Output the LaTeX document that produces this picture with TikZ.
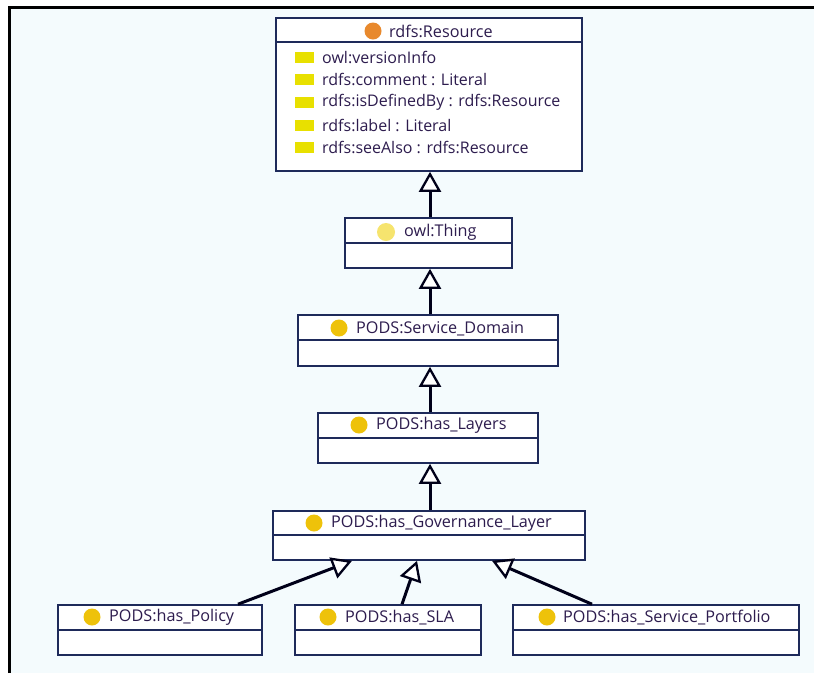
\documentclass[tikz,border=0pt]{standalone}
\usepackage{fontspec}
\setmainfont{Open Sans}
\usetikzlibrary{arrows.meta}
\definecolor{bgpaper}{RGB}{244,251,253}
\definecolor{boxline}{RGB}{30,42,90}
\definecolor{labelink}{RGB}{45,28,78}
\definecolor{resdot}{RGB}{232,137,45}
\definecolor{thingdot}{RGB}{246,228,110}
\definecolor{classdot}{RGB}{238,194,10}
\definecolor{attrmark}{RGB}{232,224,0}
\tikzset{
  classbox/.style={draw=boxline, line width=1.6pt, fill=white, rectangle, inner sep=0pt},
  classname/.style={text=labelink, font=\fontsize{16.2}{19}\selectfont, inner sep=0pt, anchor=west},
  attrname/.style={text=labelink, font=\fontsize{16}{19}\selectfont, inner sep=0pt, anchor=west},
  divider/.style={draw=boxline, line width=1.6pt},
  isa/.style={draw=black!90!blue, line width=3pt,
    -{Triangle[length=20pt, width=22pt, fill=white, line width=2.3pt]}},
}
\begin{document}
\begin{tikzpicture}[x=1pt, y=-1pt]
  % page
  \fill[bgpaper] (0,0) rectangle (814,673);
  \useasboundingbox (0,0) rectangle (814,673);
  \fill[white] (0,0) rectangle (814,5.5);
  \fill[white] (0,0) rectangle (7.5,673);
  \draw[black, line width=3pt] (9,673) -- (9,7) -- (814,7);

  % rdfs:Resource
  \node[classbox, minimum width=306pt, minimum height=153pt] (res) at (429,94.5) {};
  \draw[divider] ([yshift=-25pt]res.north west) -- ([yshift=-25pt]res.north east);
  \fill[resdot] (373,31) circle (8.5pt);
  \node[classname] (resname) at (389,31.5) {rdfs:Resource};
  \foreach \yy/\txt in {57/owl:versionInfo, 79/rdfs:comment : Literal,
      102/rdfs:isDefinedBy : rdfs:Resource, 125/rdfs:label : Literal,
      147/rdfs:seeAlso : rdfs:Resource} {
    \fill[attrmark] (295,\yy-5.5) rectangle (314,\yy+5.5);
    \node[attrname] at (322,\yy+0.5) {\txt};
  }

  % owl:Thing
  \node[classbox, minimum width=167pt, minimum height=50pt] (thing) at (428.5,243) {};
  \draw[divider] ([yshift=-26pt]thing.north west) -- ([yshift=-26pt]thing.north east);
  \fill[thingdot] (386,232) circle (9pt);
  \node[classname] (thingname) at (404,232.5) {owl:Thing};

  % PODS:Service_Domain
  \node[classbox, minimum width=260pt, minimum height=51pt] (dom) at (428,340.5) {};
  \draw[divider] ([yshift=-26pt]dom.north west) -- ([yshift=-26pt]dom.north east);
  \fill[classdot] (339,328) circle (8.5pt);
  \node[classname] (domname) at (356,328.5) {PODS:Service\_Domain};

  % PODS:has_Layers
  \node[classbox, minimum width=220pt, minimum height=50pt] (lay) at (428,438) {};
  \draw[divider] ([yshift=-26pt]lay.north west) -- ([yshift=-26pt]lay.north east);
  \fill[classdot] (359,425) circle (8.5pt);
  \node[classname] (layname) at (376,425.5) {PODS:has\_Layers};

  % PODS:has_Governance_Layer
  \node[classbox, minimum width=312pt, minimum height=49pt] (gov) at (429,535.5) {};
  \draw[divider] ([yshift=-25pt]gov.north west) -- ([yshift=-25pt]gov.north east);
  \fill[classdot] (314,523) circle (8.5pt);
  \node[classname] (govname) at (331,523.5) {PODS:has\_Governance\_Layer};

  % PODS:has_Policy
  \node[classbox, minimum width=204pt, minimum height=50pt] (pol) at (160,630) {};
  \draw[divider] ([yshift=-26pt]pol.north west) -- ([yshift=-26pt]pol.north east);
  \fill[classdot] (92,617) circle (8.5pt);
  \node[classname] (polname) at (109,617.5) {PODS:has\_Policy};

  % PODS:has_SLA
  \node[classbox, minimum width=186pt, minimum height=50pt] (sla) at (388,630) {};
  \draw[divider] ([yshift=-26pt]sla.north west) -- ([yshift=-26pt]sla.north east);
  \fill[classdot] (328,617) circle (8.5pt);
  \node[classname] (slaname) at (345,617.5) {PODS:has\_SLA};

  % PODS:has_Service_Portfolio
  \node[classbox, minimum width=286pt, minimum height=50pt] (port) at (656,630) {};
  \draw[divider] ([yshift=-26pt]port.north west) -- ([yshift=-26pt]port.north east);
  \fill[classdot] (547,617) circle (8.5pt);
  \node[classname] (portname) at (563,617.5) {PODS:has\_Service\_Portfolio};

  % subclass links
  \draw[isa] ([xshift=1.5pt]thing.north) -- ([xshift=1pt]res.south);
  \draw[isa] ([xshift=2pt]dom.north) -- ([xshift=1.5pt]thing.south);
  \draw[isa] ([xshift=2pt]lay.north) -- ([xshift=2pt]dom.south);
  \draw[isa] ([xshift=1pt]gov.north) -- ([xshift=2pt]lay.south);
  \draw[isa] ([xshift=78pt]pol.north) -- ([xshift=-77pt]gov.south);
  \draw[isa] ([xshift=14pt]sla.north) -- ([xshift=-12pt]gov.south);
  \draw[isa] ([xshift=-64pt]port.north) -- ([xshift=63pt]gov.south);
\end{tikzpicture}
\end{document}
